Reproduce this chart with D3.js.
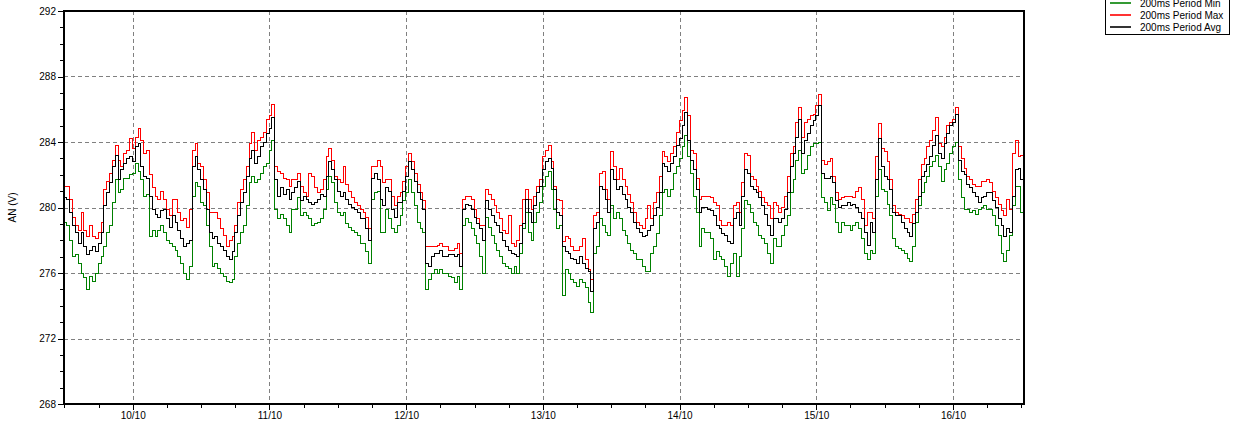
<!DOCTYPE html>
<html><head><meta charset="utf-8">
<script src="https://cdn.jsdelivr.net/npm/d3@7"></script>
<style>
body{margin:0;background:#fff;}
svg text{font-family:"Liberation Sans", Arial, sans-serif;}
</style></head><body>
<svg id="chart" width="1238" height="425"></svg>
<script>
const startTime = new Date(2023, 9, 9, 11, 56);
const endTime = new Date(2023, 9, 16, 12, 28);
const intervalMinutes = 30;
const seriesNames = ["200ms Period Min", "200ms Period Max", "200ms Period Avg"];
const seriesColors = ["#008000", "#ff0000", "#000000"];
const yAxisTitle = "AN (V)";
const yMajorTicks = [268, 272, 276, 280, 284, 288, 292];
const yDomain = [268, 292];

const minValues = [
279.1,278.9,278.0,277.0,277.1,276.6,276.0,275.7,275.0,275.8,
275.5,276.0,276.6,277.0,277.6,278.5,278.9,280.3,281.7,280.9,
281.1,281.8,281.8,282.0,282.1,282.7,282.2,281.7,280.7,280.8,
278.2,278.6,278.2,278.6,278.9,278.5,278.0,277.8,277.6,277.4,
277.0,276.6,276.0,275.6,276.4,280.7,281.5,281.3,280.3,280.1,
278.9,277.6,276.4,276.6,276.3,276.0,275.8,275.5,275.4,275.6,
277.0,277.8,278.5,278.9,280.1,281.5,281.9,281.5,281.7,282.1,
282.5,282.7,283.5,284.1,279.9,279.3,279.6,279.3,278.9,278.5,
279.9,279.9,280.6,279.5,279.7,279.5,279.3,278.9,279.0,279.1,
279.3,279.9,281.1,281.9,281.5,280.3,279.7,279.5,279.7,279.0,
278.8,278.6,278.5,278.3,277.8,277.8,277.3,276.6,280.5,280.9,
281.0,278.5,278.5,279.9,279.3,278.7,278.5,278.9,279.5,280.4,
280.9,281.7,280.9,280.1,279.1,278.7,278.5,275.0,275.6,276.0,
276.2,276.0,276.2,276.0,276.0,275.8,275.7,275.4,275.8,275.0,
278.9,279.3,279.1,278.7,278.3,277.8,277.0,276.0,279.4,278.8,
278.3,277.8,277.4,277.0,276.6,276.4,276.3,276.0,276.4,276.0,
277.2,278.7,279.7,278.5,278.0,279.1,279.7,280.3,281.3,281.9,
282.2,281.1,279.9,278.7,278.9,274.6,276.2,276.0,275.6,275.4,
275.2,275.6,275.4,275.1,274.2,273.6,277.2,277.6,279.3,278.9,
278.5,278.3,280.1,279.3,279.7,279.3,278.6,278.3,277.8,277.4,
277.2,276.8,276.8,276.4,276.1,276.1,277.2,277.6,278.4,279.5,
280.9,281.1,280.7,281.1,282.1,282.5,283.0,283.7,284.4,283.1,
282.1,280.7,279.7,277.6,278.7,278.5,278.5,278.1,276.8,277.3,
277.0,276.8,276.4,275.8,276.6,277.2,275.8,277.0,278.7,280.4,
280.2,279.7,279.1,278.9,278.3,278.1,277.8,277.2,276.6,278.1,
277.6,277.6,278.3,278.9,279.5,280.9,281.7,282.9,283.5,282.1,
282.3,283.2,283.7,283.9,283.9,284.0,280.6,280.3,279.8,280.6,
280.2,279.1,278.5,279.1,278.9,278.9,278.6,278.9,279.1,278.7,
278.1,277.2,276.8,277.4,277.2,280.7,282.3,281.1,281.0,280.2,
279.5,278.1,277.6,277.5,277.4,277.2,276.9,276.7,277.6,279.1,
280.1,280.9,281.5,281.9,282.5,282.8,283.2,282.5,281.6,282.3,
282.7,283.3,283.7,284.0,281.7,280.6,279.9,279.9,279.7,279.8,
279.6,279.9,280.0,280.1,279.9,279.9,279.5,278.9,278.3,277.2,
276.7,277.4,278.3,280.1,281.3,281.3,279.7,279.3
];

const maxValues = [
281.3,281.3,280.5,279.4,278.9,278.6,279.7,278.6,278.2,278.9,
278.2,278.1,278.5,279.1,281.1,281.6,282.1,282.9,283.8,282.9,
282.5,283.3,283.5,284.2,283.6,284.3,284.8,284.1,283.3,283.5,
282.0,281.2,280.7,280.5,281.0,280.5,279.9,279.5,280.5,280.5,
279.7,279.2,279.3,278.8,279.9,283.5,283.9,282.7,282.5,281.7,
280.9,279.7,279.7,279.7,279.3,278.7,278.3,277.6,278.0,278.2,
278.9,280.3,281.1,281.7,282.5,283.9,284.6,283.5,284.1,284.3,
284.6,285.4,285.6,286.3,282.5,282.2,282.1,281.8,281.7,281.3,
281.7,281.7,282.1,281.3,280.9,280.7,282.1,281.9,281.2,280.9,
281.1,281.7,283.1,283.6,282.9,281.9,281.7,281.5,282.5,281.4,
281.0,280.6,280.3,280.1,279.9,279.7,279.4,278.7,282.5,282.5,
282.9,282.5,281.5,281.7,281.7,280.7,280.1,280.7,280.9,281.6,
282.5,283.3,282.8,282.1,281.4,280.9,280.4,277.6,277.6,277.6,
277.6,277.7,277.8,277.6,277.6,277.4,277.4,277.5,277.8,277.2,
280.5,280.7,280.7,280.5,279.9,279.3,278.9,278.9,281.1,280.8,
280.5,280.1,279.7,279.3,278.6,278.4,279.5,277.8,277.6,278.0,
278.9,280.5,281.1,280.5,279.9,280.7,281.3,281.7,283.1,283.5,
283.8,282.8,281.3,280.5,280.4,277.9,278.2,278.1,277.6,277.4,
277.4,277.6,278.1,276.8,276.2,275.6,279.5,279.7,282.1,282.2,
281.1,280.5,283.4,282.5,281.7,282.4,281.7,281.3,280.8,280.3,
279.7,279.1,278.9,278.7,279.3,280.1,279.3,280.3,280.9,281.9,
283.4,283.1,282.8,283.3,283.7,284.6,285.3,285.9,286.7,285.6,
283.5,283.3,281.8,280.5,280.7,280.7,280.7,280.6,280.3,280.1,
279.2,278.9,278.9,279.1,278.9,280.1,280.3,279.7,281.5,283.3,
283.2,281.9,281.7,281.3,281.0,280.6,280.3,280.1,279.3,280.3,
280.1,279.7,280.0,280.7,281.9,283.3,283.7,285.2,286.1,284.3,
285.2,285.4,285.6,285.7,286.2,286.9,282.9,282.6,282.8,283.0,
281.9,280.9,280.5,280.6,280.7,280.7,280.7,280.6,281.0,281.2,
280.5,278.9,279.7,279.7,279.3,283.1,285.1,283.6,283.4,282.8,
281.7,280.1,279.7,279.6,279.5,279.3,279.3,279.1,279.6,280.5,
281.7,282.6,283.0,283.7,284.1,284.7,285.5,283.9,283.7,284.3,
285.0,285.2,285.4,286.1,283.7,283.0,282.4,281.9,281.7,281.4,
281.3,281.3,281.6,281.6,281.7,281.5,281.0,280.6,280.2,279.8,
279.5,280.5,279.9,283.3,284.1,283.1,283.2,283.7
];

const avgValues = [
280.6,280.5,279.7,278.9,278.5,277.8,278.5,277.6,277.1,277.4,
277.6,277.3,277.8,278.5,280.1,280.9,281.5,282.5,283.2,281.7,
282.3,282.7,283.0,283.1,282.8,283.7,283.9,282.5,281.9,281.8,
280.7,279.9,279.6,279.4,279.8,279.9,279.3,278.8,279.5,279.1,
278.6,278.1,277.6,277.8,278.0,282.5,283.1,282.3,281.7,281.1,
279.9,278.5,278.1,278.2,277.8,277.6,277.4,277.0,276.8,277.3,
278.5,279.5,280.3,280.9,281.9,283.0,283.5,282.7,283.1,283.7,
284.0,284.5,284.8,285.5,281.7,280.7,281.2,280.8,281.1,280.5,
280.9,281.2,281.6,280.4,280.7,280.5,280.3,280.2,280.3,280.5,
280.8,280.7,281.9,282.8,282.3,281.7,281.0,280.7,280.9,280.5,
280.2,280.0,279.9,279.7,279.3,279.3,278.7,278.0,281.8,282.1,
281.7,280.5,280.1,281.2,281.0,279.9,279.4,280.3,280.3,281.0,
281.9,282.8,282.3,281.6,280.9,280.5,279.9,276.6,276.4,277.0,
277.2,277.2,277.4,277.0,277.0,277.1,277.1,277.0,277.1,276.4,
279.9,280.2,280.1,279.9,279.4,279.0,278.7,278.0,280.4,279.9,
279.5,279.1,278.9,278.5,278.0,277.6,277.4,277.2,277.1,277.0,
277.8,279.0,280.5,279.7,279.1,280.1,280.9,281.3,282.3,282.8,
283.0,282.4,281.1,279.7,279.5,277.6,277.3,277.2,276.9,276.8,
276.6,277.0,276.6,276.3,276.1,274.9,278.7,279.1,281.3,281.1,
280.5,279.7,282.3,281.7,281.1,281.3,280.8,280.5,280.0,279.7,
279.1,278.7,278.5,278.2,278.3,278.6,278.9,279.5,280.0,280.9,
282.7,282.5,282.2,282.7,283.1,283.8,284.2,285.0,285.8,284.1,
282.9,282.3,281.1,279.7,280.0,280.0,279.9,279.8,279.5,278.9,
278.7,278.4,278.3,277.9,277.8,279.3,279.7,278.9,280.7,282.3,
282.1,281.3,281.1,280.9,280.6,280.1,279.6,278.9,278.3,279.3,
279.3,279.1,279.3,279.9,280.9,282.5,283.3,284.3,285.4,283.3,
284.1,284.5,285.0,285.3,285.6,286.2,282.1,281.8,281.8,281.9,
281.5,280.4,280.0,280.1,280.1,280.3,280.1,280.2,280.0,279.7,
279.3,278.5,277.7,279.1,278.5,281.7,284.2,282.5,281.9,281.7,
281.1,279.7,279.5,279.5,279.1,278.7,278.5,278.2,279.0,279.7,
280.7,281.9,282.2,282.6,283.1,283.8,284.4,283.3,283.0,283.9,
284.5,285.0,285.2,285.7,282.9,282.2,282.0,281.4,281.2,280.9,
280.7,280.3,280.6,280.7,280.9,280.9,280.4,280.0,279.3,278.9,
278.2,278.7,278.5,280.7,282.3,282.4,281.7,281.5
];

const seriesValues = [minValues, maxValues, avgValues];

const svg = d3.select("#chart");
const m = {left: 64, right: 1024, top: 11, bottom: 404};

const x = d3.scaleTime().domain([startTime, endTime]).range([m.left, m.right]);
const y = d3.scaleLinear().domain(yDomain).range([m.bottom, m.top]);
const timeAt = i => d3.timeMinute.offset(startTime, i * intervalMinutes);

// grid
const gridDays = d3.timeDay.range(d3.timeDay.ceil(startTime), endTime);
svg.append("g").selectAll("line").data(gridDays).join("line")
  .attr("x1", d => Math.round(x(d)) + 0.5).attr("x2", d => Math.round(x(d)) + 0.5)
  .attr("y1", m.top).attr("y2", m.bottom)
  .attr("stroke", "#808080").attr("stroke-dasharray", "4,3").attr("shape-rendering", "crispEdges");
svg.append("g").selectAll("line").data(yMajorTicks.slice(1, -1)).join("line")
  .attr("x1", m.left).attr("x2", m.right)
  .attr("y1", d => Math.round(y(d)) + 0.5).attr("y2", d => Math.round(y(d)) + 0.5)
  .attr("stroke", "#808080").attr("stroke-dasharray", "4,3").attr("shape-rendering", "crispEdges");

// series
svg.append("clipPath").attr("id", "clip").append("rect")
  .attr("x", m.left).attr("y", m.top).attr("width", m.right - m.left).attr("height", m.bottom - m.top);
const line = d3.line().x((d, i) => x(timeAt(i))).y(d => y(d)).curve(d3.curveStepAfter);
const plot = svg.append("g").attr("clip-path", "url(#clip)");
seriesValues.forEach((vals, k) => {
  plot.append("path").datum(vals).attr("d", line)
    .attr("fill", "none").attr("stroke", seriesColors[k]).attr("stroke-width", 1)
    .attr("shape-rendering", "crispEdges");
});

// frame
svg.append("rect").attr("x", m.left).attr("y", m.top)
  .attr("width", m.right - m.left).attr("height", m.bottom - m.top)
  .attr("fill", "none").attr("stroke", "#000").attr("stroke-width", 2);

// y axis
const yMinor = d3.range(yDomain[0], yDomain[1] + 1, 1).filter(v => !yMajorTicks.includes(v));
const yAxisMinor = svg.append("g").attr("transform", `translate(${m.left - 1},0)`)
  .call(d3.axisLeft(y).tickValues(yMinor).tickSize(3).tickSizeOuter(0).tickFormat(""));
const yAxisMajor = svg.append("g").attr("transform", `translate(${m.left - 1},0)`)
  .call(d3.axisLeft(y).tickValues(yMajorTicks).tickSize(5).tickSizeOuter(0).tickPadding(2).tickFormat(d3.format("d")));
[yAxisMinor, yAxisMajor].forEach(g => {
  g.select(".domain").remove();
  g.selectAll("line").attr("shape-rendering", "crispEdges");
  g.selectAll("text").attr("font-size", 10).attr("font-family", "Liberation Sans, Arial, sans-serif").attr("fill", "#000");
});

// x axis
const xAxisMinor = svg.append("g").attr("transform", `translate(0,${m.bottom + 1})`)
  .call(d3.axisBottom(x).ticks(d3.timeHour.every(6)).tickSize(3).tickSizeOuter(0).tickFormat(""));
const xAxisMajor = svg.append("g").attr("transform", `translate(0,${m.bottom + 1})`)
  .call(d3.axisBottom(x).ticks(d3.timeDay.every(1)).tickSize(5).tickSizeOuter(0).tickPadding(2).tickFormat(d3.timeFormat("%d/%m")));
[xAxisMinor, xAxisMajor].forEach(g => {
  g.select(".domain").remove();
  g.selectAll("line").attr("shape-rendering", "crispEdges");
  g.selectAll("text").attr("font-size", 10).attr("font-family", "Liberation Sans, Arial, sans-serif").attr("fill", "#000");
});

// y title
svg.append("text").attr("transform", `translate(16,${(m.top + m.bottom) / 2}) rotate(-90)`)
  .attr("text-anchor", "middle").attr("font-size", 10).text(yAxisTitle);

// legend
const lg = svg.append("g");
lg.append("rect").attr("x", 1105.5).attr("y", -6.5).attr("width", 124).attr("height", 41)
  .attr("fill", "#fff").attr("stroke", "#000").attr("stroke-width", 1).attr("shape-rendering", "crispEdges");
seriesNames.forEach((name, k) => {
  const yy = 3 + k * 12;
  lg.append("line").attr("x1", 1110).attr("x2", 1131).attr("y1", yy).attr("y2", yy)
    .attr("stroke", seriesColors[k]).attr("stroke-width", 1.6);
  lg.append("text").attr("x", 1140).attr("y", yy + 4).attr("font-size", 10).text(name);
});
</script>
</body></html>
